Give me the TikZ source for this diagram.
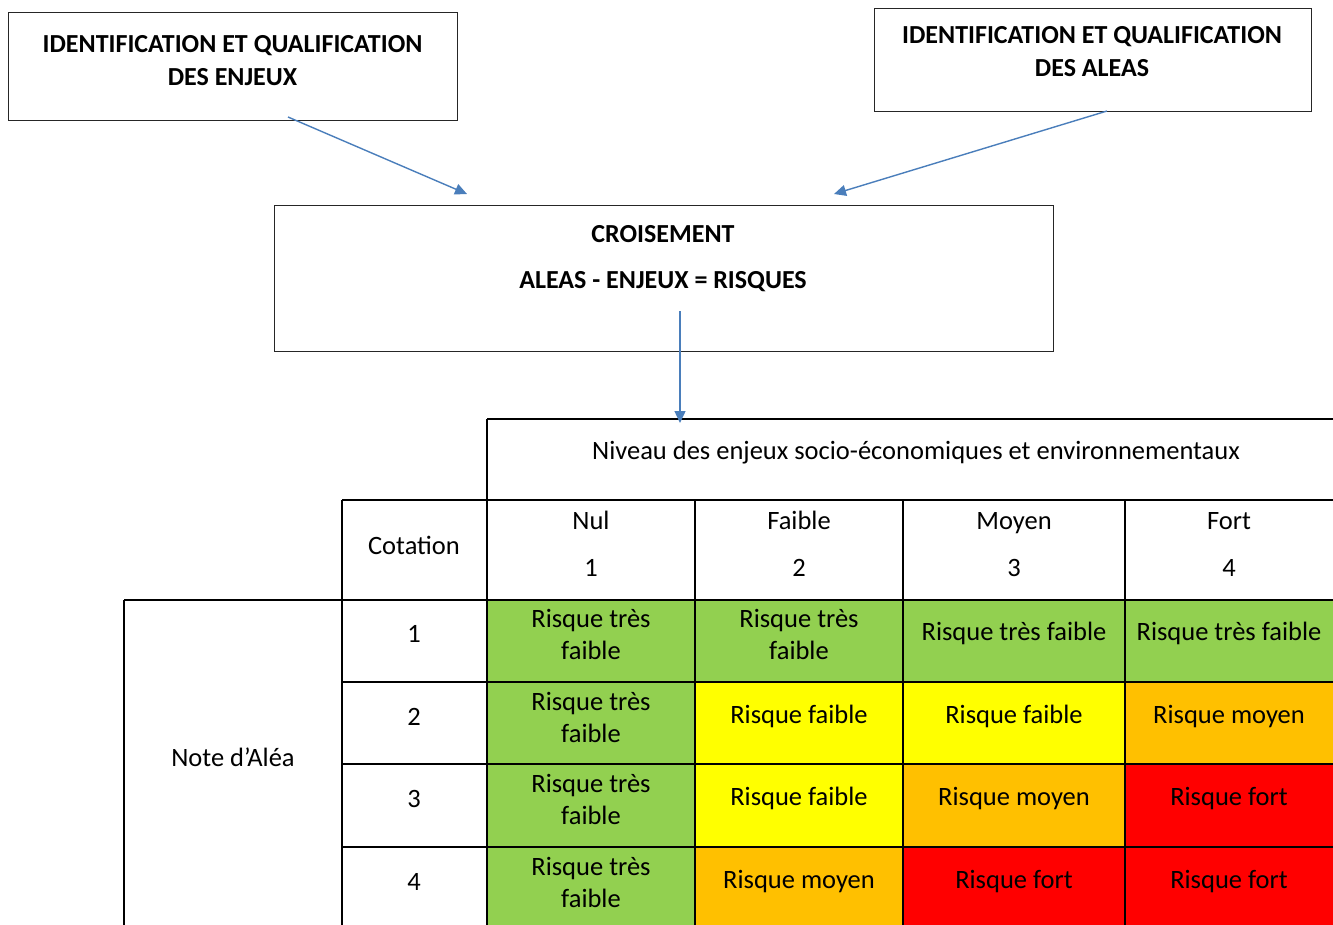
\documentclass[tikz,border=0pt]{standalone}
\usepackage{fontspec}
\setmainfont{Carlito}
\usetikzlibrary{arrows.meta}
\definecolor{rgreen}{HTML}{92D050}
\definecolor{ryellow}{HTML}{FFFF00}
\definecolor{rorange}{HTML}{FFC000}
\definecolor{rred}{HTML}{FF0000}
\definecolor{linkblue}{HTML}{4A7EBB}
\tikzset{
  box/.style={draw=black!85, line width=1pt, fill=white},
  title/.style={font=\fontsize{26}{33}\selectfont\bfseries, align=center, inner sep=0pt},
  txt/.style={font=\fontsize{26.5}{32}\selectfont, align=center, inner sep=0pt},
  line1/.style={txt, text height=18.5pt, text depth=5pt},
  conn/.style={draw=linkblue, line width=1.4pt, -{Triangle[length=12pt,width=11pt]}},
  grid/.style={line width=2pt, black},
}
\begin{document}
\begin{tikzpicture}[x=1pt,y=-1pt]
\useasboundingbox (0,0) rectangle (1333,924);
\clip (0,0) rectangle (1333,924);

% ---- upper boxes ----
\node[box, minimum width=449pt, minimum height=108pt] (enjeux) at (232.5,66) {};
\node[title] (tenjeux) at (232.5,61) {IDENTIFICATION ET QUALIFICATION\\DES ENJEUX};

\node[box, minimum width=437pt, minimum height=103pt] (aleas) at (1092.5,59.5) {};
\node[title] (taleas) at (1092,52) {IDENTIFICATION ET QUALIFICATION\\DES ALEAS};

\node[box, minimum width=779pt, minimum height=146pt] (crois) at (663.5,278) {};
\node[title] (tcrois1) at (663,234) {CROISEMENT};
\node[title] (tcrois2) at (663,282) {ALEAS - ENJEUX = RISQUES};

% ---- connectors ----
\coordinate (a1s) at (288,117);
\coordinate (a1e) at (467,194);
\coordinate (a2s) at (1107,111);
\coordinate (a2e) at (834,194);
\coordinate (a3s) at (680,311);
\coordinate (a3e) at (680,423);
\draw[conn] (a1s) -- (a1e);
\draw[conn] (a2s) -- (a2e);

% ---- risk matrix: cell fills ----
% columns: 487 | 695 | 903 | 1125 | 1335 ; rows: 600 | 682 | 764 | 847 | 930
\fill[rgreen]  (487,600) rectangle (1335,682);
\fill[rgreen]  (487,682) rectangle (695,930);
\fill[ryellow] (695,682) rectangle (1125,764);
\fill[rorange] (1125,682) rectangle (1335,764);
\fill[ryellow] (695,764) rectangle (903,847);
\fill[rorange] (903,764) rectangle (1125,847);
\fill[rred]    (1125,764) rectangle (1335,847);
\fill[rorange] (695,847) rectangle (903,930);
\fill[rred]    (903,847) rectangle (1335,930);

% ---- risk matrix: rules ----
\draw[grid] (487,419) -- (1336,419);
\draw[grid] (342,500) -- (1336,500);
\draw[grid] (124,600) -- (1336,600);
\foreach \yy in {682,764,847} \draw[grid] (342,\yy) -- (1336,\yy);
\draw[grid] (124,600) -- (124,930);
\draw[grid] (342,500) -- (342,930);
\draw[grid] (487,419) -- (487,930);
\foreach \xx in {695,903,1125} \draw[grid] (\xx,500) -- (\xx,930);

\draw[conn] (a3s) -- (a3e);

% ---- risk matrix: headings ----
\node[line1] (niveau) at (916,453) {Niveau des enjeux socio-économiques et environnementaux};
\node[line1] (cotation) at (414,547.5) {Cotation};
\node[line1] (hnul) at (591,522.5) {Nul};
\node[line1] (hnul1) at (591,570) {1};
\node[line1] (hfaible) at (799,522.5) {Faible};
\node[line1] (hfaible2) at (799,570) {2};
\node[line1] (hmoyen) at (1014,522.5) {Moyen};
\node[line1] (hmoyen3) at (1014,570) {3};
\node[line1] (hfort) at (1229,522.5) {Fort};
\node[line1] (hfort4) at (1229,570) {4};

\node[line1] (note) at (233,759.5) {Note d’Aléa};
\node[line1] (r1) at (414,636) {1};
\node[line1] (r2) at (414,719) {2};
\node[line1] (r3) at (414,801) {3};
\node[line1] (r4) at (414,884) {4};

% ---- risk matrix: cells ----
\node[txt] (c11) at (591,634) {Risque très\\faible};
\node[txt] (c12) at (799,634) {Risque très\\faible};
\node[line1] (c13) at (1014,634) {Risque très faible};
\node[line1] (c14) at (1229,634) {Risque très faible};

\node[txt] (c21) at (591,717) {Risque très\\faible};
\node[line1] (c22) at (799,717) {Risque faible};
\node[line1] (c23) at (1014,717) {Risque faible};
\node[line1] (c24) at (1229,717) {Risque moyen};

\node[txt] (c31) at (591,799) {Risque très\\faible};
\node[line1] (c32) at (799,799) {Risque faible};
\node[line1] (c33) at (1014,799) {Risque moyen};
\node[line1] (c34) at (1229,799) {Risque fort};

\node[txt] (c41) at (591,882) {Risque très\\faible};
\node[line1] (c42) at (799,882) {Risque moyen};
\node[line1] (c43) at (1014,882) {Risque fort};
\node[line1] (c44) at (1229,882) {Risque fort};
\end{tikzpicture}
\end{document}
